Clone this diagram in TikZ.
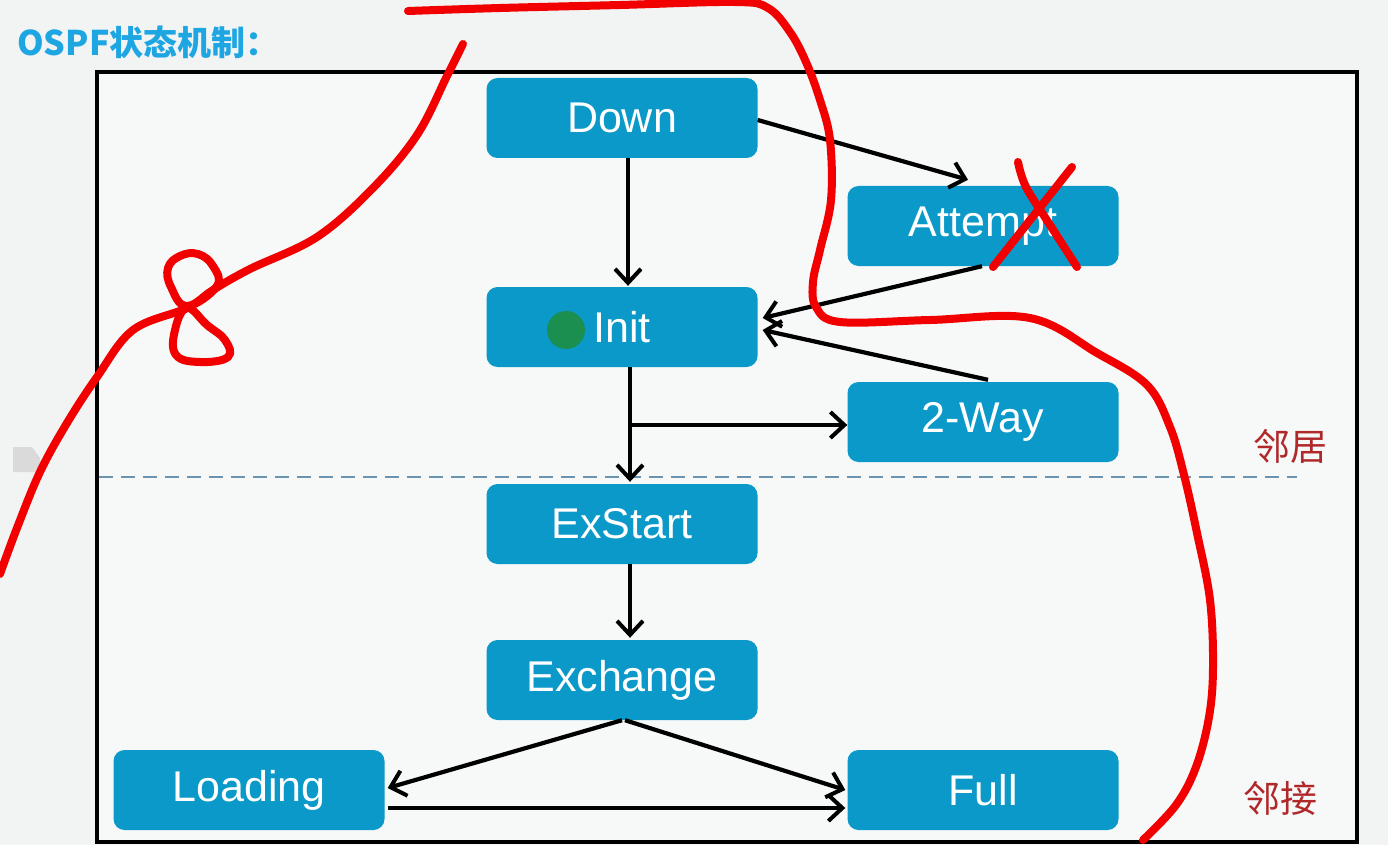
\documentclass[tikz,border=0pt]{standalone}
\usepackage{fontspec}
\setmainfont{Liberation Sans}
\newfontfamily\cjk{Noto Sans CJK SC}
\usetikzlibrary{arrows.meta}
\definecolor{bgcol}{HTML}{F2F4F4}
\definecolor{innercol}{HTML}{F7F9F9}
\definecolor{boxblue}{HTML}{0A99C9}
\definecolor{titleblue}{HTML}{1EA6E3}
\definecolor{lblred}{HTML}{B0282A}
\definecolor{dashcol}{HTML}{6A93B0}
\definecolor{penred}{HTML}{F20000}
\definecolor{dotgreen}{HTML}{1A8F50}
\definecolor{iconcol}{HTML}{DADADA}
\begin{document}
\begin{tikzpicture}[x=1pt,y=-1pt,
  statebox/.style={draw=none, fill=boxblue, rounded corners=11pt, minimum width=271pt, minimum height=80pt, inner sep=0pt, text=white, font=\fontsize{43}{48}\selectfont},
  arr/.style={draw=black, line width=4.2pt, -{Straight Barb[length=14pt,width=26pt,line width=4pt]}},
  redpen/.style={draw=penred, line width=8pt, line cap=round, line join=round},
  lbl/.style={text=lblred, font=\cjk\fontsize{37}{42}\selectfont, inner sep=0pt},
  dashline/.style={draw=dashcol, line width=2.4pt, dash pattern=on 14pt off 8pt}
]
\useasboundingbox (0,0) rectangle (1388,845);
\fill[bgcol] (0,0) rectangle (1388,845);
\draw[line width=4pt, fill=innercol] (97,72) rectangle (1357,842);
% gray icon
\fill[iconcol] (13,447) -- (32,447) -- (40,458) -- (40,472) -- (13,472) -- cycle;
% title
\node[anchor=west, inner sep=0pt, text=titleblue, font=\cjk\bfseries\fontsize{34}{40}\selectfont] (title) at (17,42) {OSPF状态机制：};
% dashed separator
\coordinate (dl) at (99,477);
\coordinate (dr) at (1297,477);
\draw[dashline] (dl) -- (dr);
% labels
\node[lbl] (nbr) at (1290,446) {邻居};
\node[lbl] (adj) at (1280,798) {邻接};
% states
\node[statebox] (down) at (622,118) {Down};
\node[statebox] (attempt) at (983,226) {Attempt};
\node[statebox] (init) at (622,327) {Init};
\node[statebox] (twoway) at (983,422) {2-Way};
\node[statebox] (exstart) at (622,524) {ExStart};
\node[statebox] (exchange) at (622,680) {Exchange};
\node[statebox] (loading) at (249,790) {Loading};
\node[statebox] (full) at (983,790) {Full};
% green dot
\node[circle, fill=dotgreen, minimum size=38pt, inner sep=0pt] (dot) at (566,330) {};
% connectors
\draw[arr] ([xshift=6pt]down.south) -- ([xshift=6pt,yshift=1pt]init.north);
\draw[arr] ([yshift=-2pt]down.east) -- ([xshift=-15pt,yshift=6pt]attempt.north);
\draw[arr] ([xshift=-1pt]attempt.south) -- ([xshift=5pt,yshift=9pt]init.east);
\draw[arr] ([xshift=5pt,yshift=2pt]twoway.north) -- ([xshift=5pt,yshift=-3pt]init.east);
\draw[arr] ([xshift=8pt]init.south) -- ([xshift=8pt,yshift=2pt]exstart.north);
\coordinate (br) at (630,425);
\draw[arr] (br) -- (br -| twoway.west);
\draw[arr] ([xshift=8pt]exstart.south) -- ([xshift=8pt,yshift=2pt]exchange.north);
\draw[arr] (exchange.south) -- ([xshift=3pt,yshift=2pt]loading.east);
\draw[arr] ([xshift=3pt]exchange.south) -- ([xshift=-2pt]full.west);
\draw[arr] ([xshift=3pt,yshift=-18pt]loading.east) -- ([xshift=-2pt,yshift=-18pt]full.west);
% red annotations
\draw[redpen] plot[smooth, tension=0.6] coordinates {(408,11) (500,8) (620,5) (735,2) (768,8) (790,32) (806,62) (820,100) (830,140) (831,200) (820,250) (813,282) (816,307) (840,322) (930,320) (1030,318) (1097,353) (1147,385) (1170,427) (1184,475) (1197,533) (1210,600) (1213,667) (1209,717) (1196,767) (1176,805) (1143,840)};
\draw[redpen] plot[smooth, tension=0.6] coordinates {(463,44) (447,76) (417,135) (373,188) (317,237) (250,269) (213,290) (187,308) (133,330) (97,377) (67,423) (40,472) (17,528) (0,574)};
\draw[redpen] plot[smooth cycle, tension=0.7] coordinates {(187,306) (171,287) (168,268) (180,256) (198,254) (213,266) (217,286)};
\draw[redpen] plot[smooth cycle, tension=0.7] coordinates {(187,308) (175,330) (176,355) (200,362) (228,357) (225,340) (207,325)};
\draw[redpen] plot[smooth, tension=0.6] coordinates {(1018,162) (1026,187) (1050,225) (1077,267)};
\draw[redpen] (1072,167) -- (993,267);
\end{tikzpicture}
\end{document}
